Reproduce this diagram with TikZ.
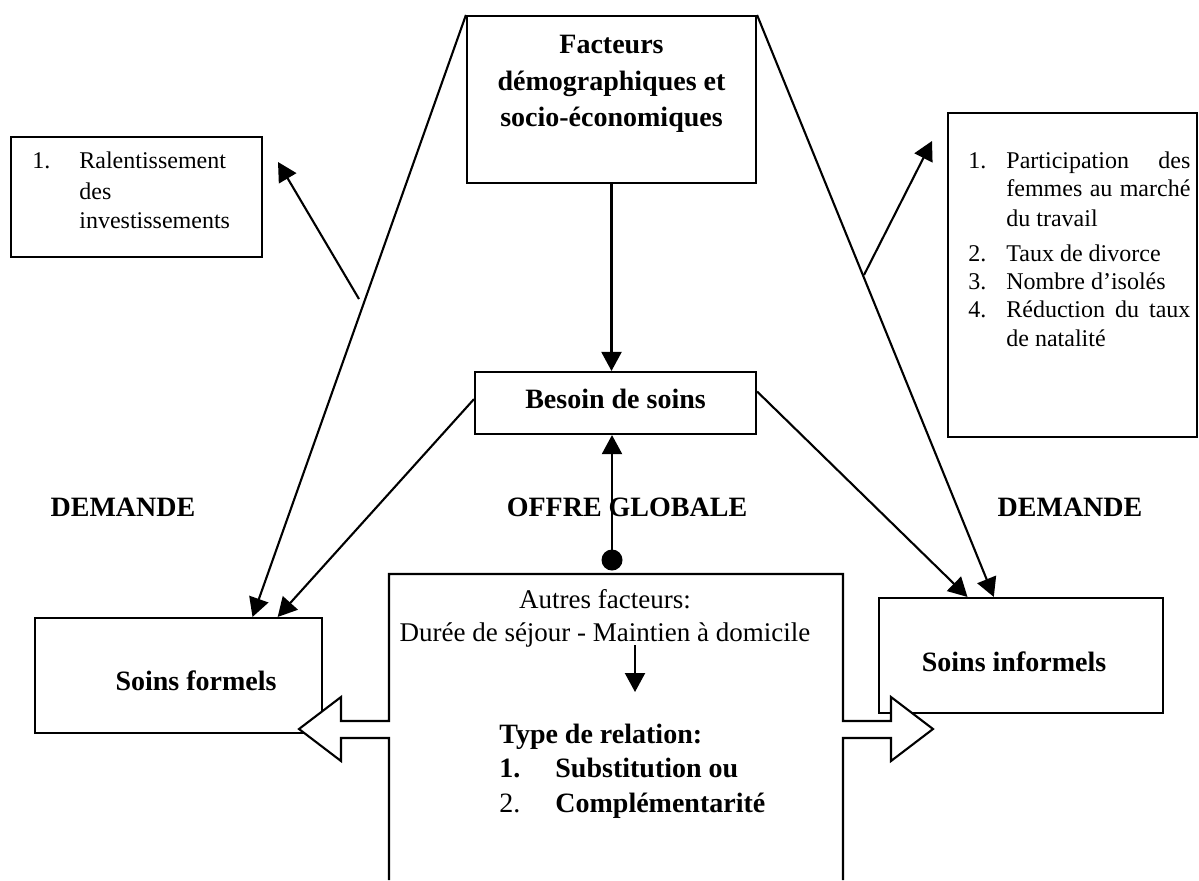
\documentclass[tikz,border=0pt]{standalone}
\usepackage{fontspec}
\setmainfont{Liberation Serif}
\usetikzlibrary{arrows.meta,calc}

\begin{document}
\begin{tikzpicture}[x=0.5pt,y=-0.5pt,
  box/.style={draw,line width=1.05pt,rectangle,inner sep=0pt},
  conn/.style={line width=1.05pt,-{Triangle[length=9.5pt,width=10pt]}},
  outline/.style={line width=1.05pt,line join=miter},
  txt/.style={inner sep=0pt,font=\fontsize{12}{14.5}\selectfont,text height=8pt,text depth=2.5pt},
  rtxt/.style={inner sep=0pt,font=\fontsize{14}{17}\selectfont,text height=10pt,text depth=3pt},
  btxt/.style={inner sep=0pt,font=\fontsize{14}{17}\selectfont\bfseries,text height=10pt,text depth=3pt},
  bblock/.style={inner sep=0pt,font=\fontsize{14}{18.25}\selectfont\bfseries,align=center},
]
\useasboundingbox (0,0) rectangle (1199,880);

% ---- main boxes ----
\node[box,minimum width=144.5pt,minimum height=83.5pt] (fact) at (611.5,99.5) {};
\node[bblock] (factT) at (611.5,84) {Facteurs\\démographiques et\\socio-économiques};

\node[box,minimum width=140.5pt,minimum height=31pt] (besoin) at (615.5,403) {};
\node[btxt] (besoinT) at (615.5,401) {Besoin de soins};

\node[box,minimum width=143.5pt,minimum height=57.5pt] (formels) at (178.5,675.5) {};
\node[btxt] (formelsT) at (196,683) {Soins formels};

\node[box,minimum width=142pt,minimum height=57.5pt] (informels) at (1021,655.5) {};
\node[btxt] (informelsT) at (1014,664) {Soins informels};

% ---- side boxes ----
\node[box,minimum width=125.5pt,minimum height=60pt] (invest) at (136.5,197) {};
\node[txt,anchor=west] (inv1n) at (32,163) {1.};
\node[txt,anchor=west] (inv1a) at (79,163) {Ralentissement};
\node[txt,anchor=west] (inv1b) at (79,194) {des};
\node[txt,anchor=west] (inv1c) at (79,223) {investissements};

\node[box,minimum width=124.5pt,minimum height=162pt] (socio) at (1072.5,275) {};
\node[txt,anchor=west] (soc1n) at (968,163) {1.};
\node[txt,anchor=west] (soc1a) at (1006,163) {\makebox[92pt][s]{Participation des}};
\node[txt,anchor=west] (soc1b) at (1006,191) {\makebox[92pt][s]{femmes au marché}};
\node[txt,anchor=west] (soc1c) at (1006,221) {du travail};
\node[txt,anchor=west] (soc2n) at (968,256) {2.};
\node[txt,anchor=west] (soc2) at (1006,256) {Taux de divorce};
\node[txt,anchor=west] (soc3n) at (968,284) {3.};
\node[txt,anchor=west] (soc3) at (1006,284) {Nombre d’isolés};
\node[txt,anchor=west] (soc4n) at (968,312) {4.};
\node[txt,anchor=west] (soc4a) at (1006,312) {\makebox[92pt][s]{Réduction du taux}};
\node[txt,anchor=west] (soc4b) at (1006,341) {de natalité};

% ---- headings ----
\node[btxt] (demL) at (123,509) {DEMANDE};
\node[btxt] (offre) at (627,509) {OFFRE GLOBALE};
\node[btxt] (demR) at (1070,509) {DEMANDE};

% ---- supply box with its two block arrows ----
\draw[outline,fill=white] (389,880) -- (389,738) -- (341,738) -- (341,761) -- (299,729)
  -- (341,697) -- (341,721) -- (389,721) -- (389,574) -- (843,574) -- (843,721)
  -- (891,721) -- (891,697) -- (933,729) -- (891,761) -- (891,738) -- (843,738) -- (843,880);

\node[inner sep=0pt,font=\fontsize{13.5}{16.5}\selectfont,align=center] (autres) at (605,618)
  {Autres facteurs:\\Durée de séjour - Maintien à domicile};
\node[btxt,anchor=west] (typeT) at (499,736) {Type de relation:};
\node[btxt,anchor=west] (typ1n) at (499,770) {1.};
\node[btxt,anchor=west] (typ1) at (555,770) {Substitution ou};
\node[rtxt,anchor=west] (typ2n) at (499,805) {2.};
\node[btxt,anchor=west] (typ2) at (555,805) {Complémentarité};

\node[circle,fill,inner sep=0pt,minimum size=10.5pt] (dot) at (612,560) {};

% ---- connectors ----
\draw[conn] (fact.south) -- (fact.south |- besoin.north);
\draw[conn] (dot.center) -- (dot.center |- besoin.south);
\draw[conn] (fact.north west) -- ($(formels.north west)!0.756!(formels.north east)$);
\draw[conn] ($(besoin.north west)!0.44!(besoin.south west)$) -- ($(formels.north west)!0.843!(formels.north east)$);
\draw[conn] (fact.north east) -- ($(informels.north west)!0.405!(informels.north east)$);
\draw[conn] ($(besoin.north east)!0.32!(besoin.south east)$) -- ($(informels.north west)!0.313!(informels.north east)$);

\coordinate (invA) at (359,299);
\coordinate (invB) at (278,162);
\draw[conn] (invA) -- (invB);
\coordinate (socA) at (864,275);
\coordinate (socB) at (932,141);
\draw[conn] (socA) -- (socB);
\coordinate (durA) at (635,645);
\coordinate (durB) at (635,692);
\draw[conn] (durA) -- (durB);
\end{tikzpicture}
\end{document}
